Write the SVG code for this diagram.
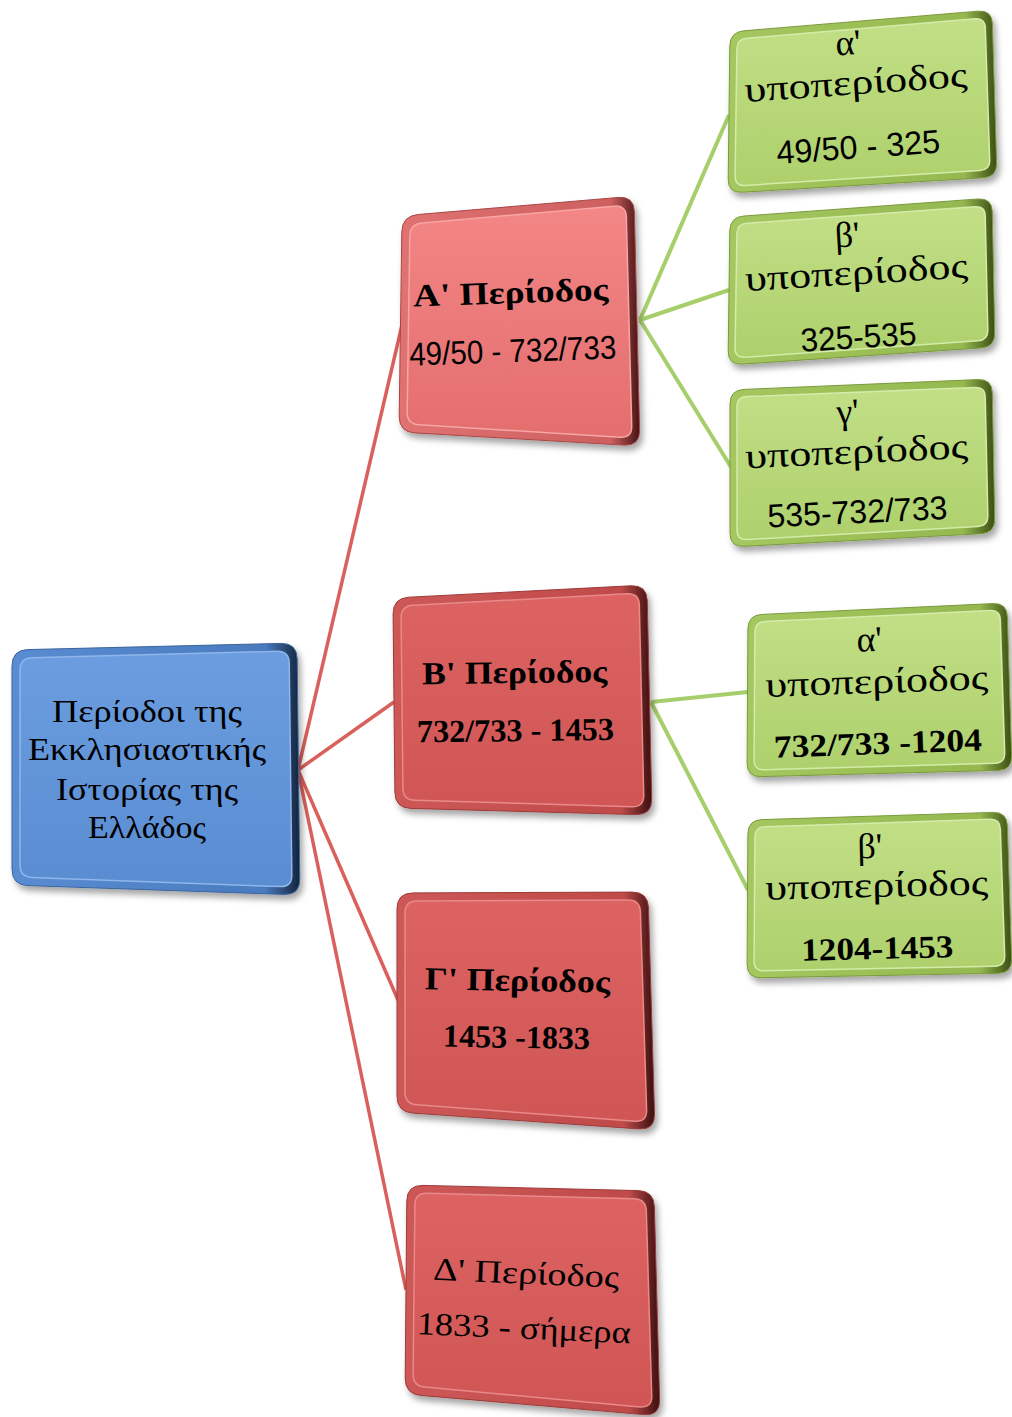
<svg xmlns="http://www.w3.org/2000/svg" width="1012" height="1417" viewBox="0 0 1012 1417">
<defs>
<filter id="sh" x="-10%" y="-10%" width="125%" height="125%">
<feDropShadow dx="3" dy="5" stdDeviation="3" flood-color="#000" flood-opacity="0.35"/>
</filter>
<linearGradient id="blueRim" x1="0" y1="0" x2="1" y2="0">
<stop offset="0" stop-color="#5a8cd2"/><stop offset="0.88" stop-color="#4a7bbf"/><stop offset="1" stop-color="#13233b"/>
</linearGradient>
<linearGradient id="blueIn" x1="0" y1="0" x2="0" y2="1">
<stop offset="0" stop-color="#6b9de0"/><stop offset="1" stop-color="#5a8cd2"/>
</linearGradient>
<linearGradient id="redARim" x1="0" y1="0" x2="1" y2="0">
<stop offset="0" stop-color="#e07272"/><stop offset="0.88" stop-color="#cd6060"/><stop offset="1" stop-color="#451313"/>
</linearGradient>
<linearGradient id="redAIn" x1="0" y1="0" x2="0" y2="1">
<stop offset="0" stop-color="#f38686"/><stop offset="1" stop-color="#e46e6e"/>
</linearGradient>
<linearGradient id="redRim" x1="0" y1="0" x2="1" y2="0">
<stop offset="0" stop-color="#cd5857"/><stop offset="0.88" stop-color="#c04b4a"/><stop offset="1" stop-color="#3a0f0f"/>
</linearGradient>
<linearGradient id="redIn" x1="0" y1="0" x2="0" y2="1">
<stop offset="0" stop-color="#dc6362"/><stop offset="1" stop-color="#d05655"/>
</linearGradient>
<linearGradient id="greenRim" x1="0" y1="0" x2="1" y2="0">
<stop offset="0" stop-color="#a4c75f"/><stop offset="0.88" stop-color="#95b950"/><stop offset="1" stop-color="#3b4e12"/>
</linearGradient>
<linearGradient id="greenIn" x1="0" y1="0" x2="0" y2="1">
<stop offset="0" stop-color="#c2df86"/><stop offset="1" stop-color="#aed06c"/>
</linearGradient>
</defs>
<style>
.blueO{fill:url(#blueRim);stroke:#3b659e;stroke-width:1}
.blueI{fill:url(#blueIn);stroke:#8fb6ea;stroke-width:1.5}
.redAO{fill:url(#redARim);stroke:#a84646;stroke-width:1}
.redAI{fill:url(#redAIn);stroke:#f7a5a5;stroke-width:1.5}
.redO{fill:url(#redRim);stroke:#9c3b3a;stroke-width:1}
.redI{fill:url(#redIn);stroke:#e88a89;stroke-width:1.5}
.grnO{fill:url(#greenRim);stroke:#7b9a3c;stroke-width:1}
.grnI{fill:url(#greenIn);stroke:#d5ebaa;stroke-width:1.5}
.sh{filter:url(#sh)}
text{font-family:"Liberation Serif","DejaVu Serif",serif;fill:#000;text-anchor:middle}
.t31{font-size:31px}
.t32{font-size:32px}
.t33{font-size:33px}
.t36{font-size:36px}
.b{font-weight:bold}
.sans{font-family:"Liberation Sans","DejaVu Sans",sans-serif}
.rc{stroke:#d9605c;stroke-width:3.5;fill:none}
.gc{stroke:#a6cf6c;stroke-width:4;fill:none}
</style>

<g id="connectors">
<line class="rc" x1="298" y1="770" x2="402" y2="325"/>
<line class="rc" x1="298" y1="770" x2="394" y2="702"/>
<line class="rc" x1="298" y1="770" x2="398" y2="1000"/>
<line class="rc" x1="298" y1="770" x2="406" y2="1290"/>
<line class="gc" x1="640" y1="320" x2="729" y2="115"/>
<line class="gc" x1="640" y1="320" x2="729" y2="290"/>
<line class="gc" x1="640" y1="320" x2="731" y2="467"/>
<line class="gc" x1="651" y1="702" x2="748" y2="692"/>
<line class="gc" x1="651" y1="702" x2="748" y2="890"/>
</g>

<g id="root">
<path class="blueO sh" d="M 28,649.6 L 281,643.4 Q 297,643 297.2,659 L 299.8,879 Q 300,895 284,894.4 L 28,885.6 Q 12,885 12,869 L 12,666 Q 12,650 28,649.6 Z"/>
<path class="blueI" d="M 32,657.7 L 277,651.3 Q 289,651 289.2,663 L 291.8,875 Q 292,887 280,886.6 L 32,877.4 Q 20,877 20,865 L 20,670 Q 20,658 32,657.7 Z"/>
<text class="t32" x="147" y="722" textLength="190" lengthAdjust="spacingAndGlyphs">Περίοδοι της</text>
<text class="t32" x="147" y="760" textLength="238" lengthAdjust="spacingAndGlyphs">Εκκλησιαστικής</text>
<text class="t32" x="147" y="800" textLength="182" lengthAdjust="spacingAndGlyphs">Ιστορίας της</text>
<text class="t32" x="147" y="838" textLength="118" lengthAdjust="spacingAndGlyphs">Ελλάδος</text>
</g>

<g id="periodA">
<path class="redAO sh" d="M 418,214.5 L 618,197.5 Q 634,196 634.4,212 L 639.6,430 Q 640,446 624,445.1 L 415,432.9 Q 399,432 399.2,416 L 401.8,232 Q 402,216 418,214.5 Z"/>
<path class="redAI" d="M 422,222.9 L 614,206.2 Q 626,205 626.3,217 L 631.7,426 Q 632,438 620,437.3 L 419,424.7 Q 407,424 407.2,412 L 409.8,236 Q 410,224 422,222.9 Z"/>
<g transform="rotate(-2 515 330)">
<text class="t32 b" x="512" y="303" textLength="195" lengthAdjust="spacingAndGlyphs">Α'  Περίοδος</text>
<text class="t33 sans" x="512" y="362" textLength="207" lengthAdjust="spacingAndGlyphs">49/50 - 732/733</text>
</g>
</g>

<g id="periodB">
<path class="redO sh" d="M 409,597.2 L 631,585.8 Q 647,585 647.3,601 L 651.7,799 Q 652,815 636,814.6 L 411,808.4 Q 395,808 394.9,792 L 393.1,614 Q 393,598 409,597.2 Z"/>
<path class="redI" d="M 413,605.3 L 627,593.7 Q 639,593 639.3,605 L 643.7,795 Q 644,807 632,806.7 L 415,800.3 Q 403,800 402.9,788 L 401.1,618 Q 401,606 413,605.3 Z"/>
<g transform="rotate(-0.7 522 700)">
<text class="t32 b" x="515" y="683" textLength="185" lengthAdjust="spacingAndGlyphs">Β' Περίοδος</text>
<text class="t32 b" x="515" y="741" textLength="197" lengthAdjust="spacingAndGlyphs">732/733 - 1453</text>
</g>
</g>

<g id="periodC">
<path class="redO sh" d="M 413,892.9 L 632,892.1 Q 648,892 648.5,908 L 654.5,1114 Q 655,1130 639,1128.9 L 413,1113.1 Q 397,1112 397,1096 L 397,909 Q 397,893 413,892.9 Z"/>
<path class="redI" d="M 417,900.9 L 628,900.1 Q 640,900 640.4,912 L 646.6,1110 Q 647,1122 635,1121.2 L 417,1104.8 Q 405,1104 405,1092 L 405,913 Q 405,901 417,900.9 Z"/>
<g transform="rotate(1 525 1010)">
<text class="t32 b" x="517" y="991" textLength="185" lengthAdjust="spacingAndGlyphs">Γ' Περίοδος</text>
<text class="t32 b" x="517" y="1048" textLength="147" lengthAdjust="spacingAndGlyphs">1453 -1833</text>
</g>
</g>

<g id="periodD">
<path class="redO sh" d="M 423,1185.4 L 638,1190.6 Q 654,1191 654.4,1207 L 659.6,1400 Q 660,1416 644,1414.6 L 421,1395.4 Q 405,1394 405.2,1378 L 406.8,1201 Q 407,1185 423,1185.4 Z"/>
<path class="redI" d="M 427,1193.3 L 634,1198.7 Q 646,1199 646.3,1211 L 651.7,1396 Q 652,1408 640,1406.9 L 425,1387.1 Q 413,1386 413.1,1374 L 414.9,1205 Q 415,1193 427,1193.3 Z"/>
<g transform="rotate(2.5 532 1300)">
<text class="t32" x="525" y="1284" textLength="186" lengthAdjust="spacingAndGlyphs">Δ' Περίοδος</text>
<text class="t32" x="525" y="1339" textLength="214" lengthAdjust="spacingAndGlyphs">1833 - σήμερα</text>
</g>
</g>

<g id="subA1">
<path class="grnO sh" d="M 744,30.8 L 978,11.2 Q 992,10 992.4,24 L 996.6,163 Q 997,177 983,177.8 L 742,192.2 Q 728,193 728.2,179 L 729.8,46 Q 730,32 744,30.8 Z"/>
<path class="grnI" d="M 747,38.2 L 975,18.8 Q 985,18 985.3,28 L 989.7,160 Q 990,170 980,170.6 L 745,185.4 Q 735,186 735.1,176 L 736.9,49 Q 737,39 747,38.2 Z"/>
<g transform="rotate(-4 860 100)">
<text class="t36" x="852" y="54">α'</text>
<text class="t36" x="857" y="94" textLength="223" lengthAdjust="spacingAndGlyphs">υποπερίοδος</text>
<text class="t33 sans" x="855" y="158" textLength="164" lengthAdjust="spacingAndGlyphs">49/50 - 325</text>
</g>
</g>

<g id="subA2">
<path class="grnO sh" d="M 744,216 L 978,199 Q 992,198 992.3,212 L 994.7,333 Q 995,347 981,347.9 L 742,364.1 Q 728,365 728.2,351 L 729.8,231 Q 730,217 744,216 Z"/>
<path class="grnI" d="M 747,223.3 L 975,206.7 Q 985,206 985.2,216 L 987.8,330 Q 988,340 978,340.7 L 745,357.3 Q 735,358 735.1,348 L 736.9,234 Q 737,224 747,223.3 Z"/>
<g transform="rotate(-3.5 860 282)">
<text class="t36" x="850" y="246">β'</text>
<text class="t36" x="857" y="284" textLength="223" lengthAdjust="spacingAndGlyphs">υποπερίοδος</text>
<text class="t33 sans" x="855" y="348" textLength="116" lengthAdjust="spacingAndGlyphs">325-535</text>
</g>
</g>

<g id="subA3">
<path class="grnO sh" d="M 744,389.4 L 978,379.6 Q 992,379 992.3,393 L 994.7,519 Q 995,533 981,533.7 L 744,546.3 Q 730,547 730,533 L 730,404 Q 730,390 744,389.4 Z"/>
<path class="grnI" d="M 747,396.6 L 975,387.4 Q 985,387 985.2,397 L 987.8,516 Q 988,526 978,526.5 L 747,539.5 Q 737,540 737,530 L 737,407 Q 737,397 747,396.6 Z"/>
<g transform="rotate(-2.7 860 462)">
<text class="t36" x="850" y="423">γ'</text>
<text class="t36" x="857" y="463" textLength="223" lengthAdjust="spacingAndGlyphs">υποπερίοδος</text>
<text class="t33 sans" x="855" y="523" textLength="180" lengthAdjust="spacingAndGlyphs">535-732/733</text>
</g>
</g>

<g id="subB1">
<path class="grnO sh" d="M 762,614.4 L 993,603.6 Q 1007,603 1007.4,617 L 1011.6,756 Q 1012,770 998,770.4 L 761,776.6 Q 747,777 747.1,763 L 747.9,629 Q 748,615 762,614.4 Z"/>
<path class="grnI" d="M 765,621.5 L 990,610.5 Q 1000,610 1000.3,620 L 1004.7,753 Q 1005,763 995,763.3 L 764,769.7 Q 754,770 754.1,760 L 754.9,632 Q 755,622 765,621.5 Z"/>
<g transform="rotate(-2 877 690)">
<text class="t36" x="871" y="651">α'</text>
<text class="t36" x="877" y="693" textLength="223" lengthAdjust="spacingAndGlyphs">υποπερίοδος</text>
<text class="t32 b" x="876" y="754" textLength="208" lengthAdjust="spacingAndGlyphs">732/733 -1204</text>
</g>
</g>

<g id="subB2">
<path class="grnO sh" d="M 762,819.6 L 993,812.4 Q 1007,812 1007.4,826 L 1011.6,959 Q 1012,973 998,973.3 L 761,977.7 Q 747,978 747.1,964 L 747.9,834 Q 748,820 762,819.6 Z"/>
<path class="grnI" d="M 765,826.7 L 990,819.3 Q 1000,819 1000.3,829 L 1004.7,956 Q 1005,966 995,966.2 L 764,970.8 Q 754,971 754.1,961 L 754.9,837 Q 755,827 765,826.7 Z"/>
<g transform="rotate(-1.4 877 895)">
<text class="t36" x="871" y="858">β'</text>
<text class="t36" x="877" y="897" textLength="223" lengthAdjust="spacingAndGlyphs">υποπερίοδος</text>
<text class="t32 b" x="876" y="959" textLength="152" lengthAdjust="spacingAndGlyphs">1204-1453</text>
</g>
</g>
</svg>
